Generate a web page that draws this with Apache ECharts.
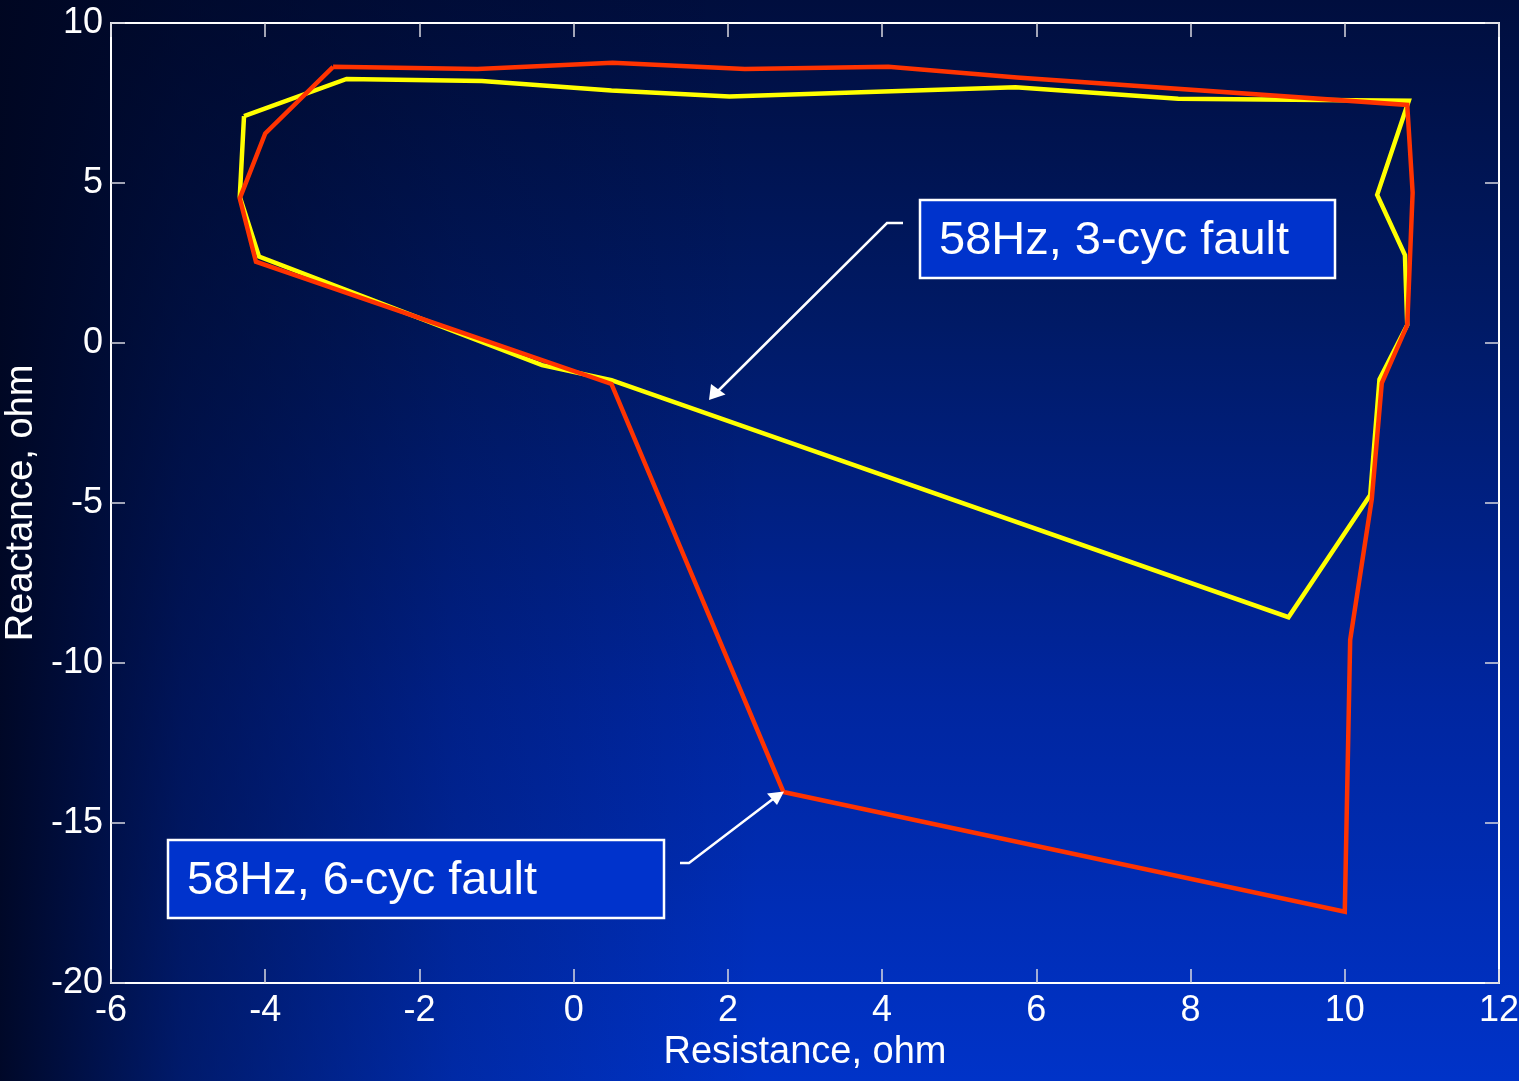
<!DOCTYPE html>
<html>
<head>
<meta charset="utf-8">
<script src="https://cdn.jsdelivr.net/npm/echarts@6/dist/echarts.min.js"></script>
<style>
html,body{margin:0;padding:0;width:1519px;height:1081px;overflow:hidden;}
#bg{position:absolute;left:0;top:0;width:1519px;height:1081px;
 background:
  linear-gradient(to right, rgba(0,6,32,0.95) 0%, rgba(0,6,32,0.55) 12%, rgba(0,6,32,0.2) 30%, rgba(0,6,32,0) 50%),
  linear-gradient(to bottom, #000e3e 0%, #001a66 30%, #0026a0 65%, #0033c8 100%);}
#chart{position:absolute;left:0;top:0;width:1519px;height:1081px;}
</style>
</head>
<body>
<div id="bg"></div>
<div id="chart"></div>
<script>
// Axis settings
const xTicks = [-6, -4, -2, 0, 2, 4, 6, 8, 10, 12];
const yTicks = [-20, -15, -10, -5, 0, 5, 10];

// 58Hz, 3-cyc fault trajectory (R, X)
const r3cyc = [-4.275, -2.945, -1.19, 0.49, 2.02, 5.73, 7.84, 10.83, 10.42, 10.78, 10.81, 10.45, 10.33, 9.27, 0.49, -0.41, -4.08, -4.33, -4.275];
const x3cyc = [7.09, 8.25, 8.19, 7.89, 7.70, 7.99, 7.63, 7.57, 4.63, 2.75, 0.56, -1.14, -4.75, -8.57, -1.16, -0.69, 2.70, 4.57, 7.09];

// 58Hz, 6-cyc fault trajectory (R, X)
const r6cyc = [-3.12, -1.25, 0.505, 2.22, 4.08, 5.75, 10.81, 10.88, 10.81, 10.48, 10.35, 10.07, 10.0, 2.72, 0.49, -4.12, -4.33, -4.0, -3.12];
const x6cyc = [8.63, 8.56, 8.76, 8.56, 8.63, 8.30, 7.44, 4.70, 0.56, -1.25, -4.88, -9.28, -17.77, -14.03, -1.28, 2.54, 4.52, 6.55, 8.63];

const label3 = '58Hz, 3-cyc fault';
const label6 = '58Hz, 6-cyc fault';
const xName = 'Resistance, ohm';
const yName = 'Reactance, ohm';

const FONT = 'Liberation Sans, Arial, Helvetica, sans-serif';
const pts = (a, b) => a.map((v, i) => [v, b[i]]);

const chart = echarts.init(document.getElementById('chart'), null, {renderer: 'canvas'});

const axisCommon = {
  type: 'value',
  axisLine: {show: true, onZero: false, lineStyle: {color: '#ffffff', width: 2}},
  axisTick: {show: true, inside: true, length: 14, lineStyle: {color: '#d8d8e0', width: 1.5}},
  splitLine: {show: false}
};

chart.setOption({
  backgroundColor: 'transparent',
  animation: false,
  grid: {left: 111, top: 23, right: 20, bottom: 98, containLabel: false, outerBoundsMode: 'none'},
  xAxis: [
    Object.assign({}, axisCommon, {
      position: 'bottom', min: xTicks[0], max: xTicks[xTicks.length - 1], interval: 2,
      name: xName, nameLocation: 'middle', nameGap: 41,
      nameTextStyle: {color: '#ffffff', fontSize: 38, fontFamily: FONT},
      axisLabel: {color: '#ffffff', fontSize: 36, fontFamily: FONT, margin: 10}
    }),
    Object.assign({}, axisCommon, {
      position: 'top', min: xTicks[0], max: xTicks[xTicks.length - 1], interval: 2,
      axisLabel: {show: false}
    })
  ],
  yAxis: [
    Object.assign({}, axisCommon, {
      position: 'left', min: yTicks[0], max: yTicks[yTicks.length - 1], interval: 5,
      name: yName, nameLocation: 'middle', nameGap: 67,
      nameTextStyle: {color: '#ffffff', fontSize: 38, fontFamily: FONT},
      axisLabel: {color: '#ffffff', fontSize: 36, fontFamily: FONT, margin: 8}
    }),
    Object.assign({}, axisCommon, {
      position: 'right', min: yTicks[0], max: yTicks[yTicks.length - 1], interval: 5,
      axisLabel: {show: false}
    })
  ],
  series: [
    {
      name: label3, type: 'line', data: pts(r3cyc, x3cyc), showSymbol: false, symbol: 'none',
      lineStyle: {color: '#ffff00', width: 4.5, join: 'miter'}, z: 3
    },
    {
      name: label6, type: 'line', data: pts(r6cyc, x6cyc), showSymbol: false, symbol: 'none',
      lineStyle: {color: '#ff3300', width: 4.5, join: 'miter'}, z: 4
    }
  ],
  graphic: [
    // 3-cyc annotation box
    {type: 'rect', shape: {x: 920, y: 200, width: 415, height: 78},
     style: {fill: '#0033cc', stroke: '#ffffff', lineWidth: 2.5}, z: 10},
    {type: 'text', x: 939, y: 241,
     style: {text: label3, fill: '#ffffff', font: '47px ' + FONT, textVerticalAlign: 'middle', textAlign: 'left'}, z: 11},
    // 6-cyc annotation box
    {type: 'rect', shape: {x: 168, y: 840, width: 496, height: 78},
     style: {fill: '#0033cc', stroke: '#ffffff', lineWidth: 2.5}, z: 10},
    {type: 'text', x: 187, y: 881,
     style: {text: label6, fill: '#ffffff', font: '47px ' + FONT, textVerticalAlign: 'middle', textAlign: 'left'}, z: 11},
    // arrow 1
    {type: 'polyline', shape: {points: [[903, 223], [887, 223], [718, 391]]},
     style: {stroke: '#ffffff', lineWidth: 2.5, fill: null}, z: 10},
    {type: 'polygon', shape: {points: [[709, 400], [711, 384], [725.5, 394.5]]},
     style: {fill: '#ffffff'}, z: 10},
    // arrow 2
    {type: 'polyline', shape: {points: [[680, 863], [689, 863], [773, 799]]},
     style: {stroke: '#ffffff', lineWidth: 2.5, fill: null}, z: 10},
    {type: 'polygon', shape: {points: [[784, 791.5], [767, 793.5], [777, 805]]},
     style: {fill: '#ffffff'}, z: 10}
  ]
});
</script>
</body>
</html>
